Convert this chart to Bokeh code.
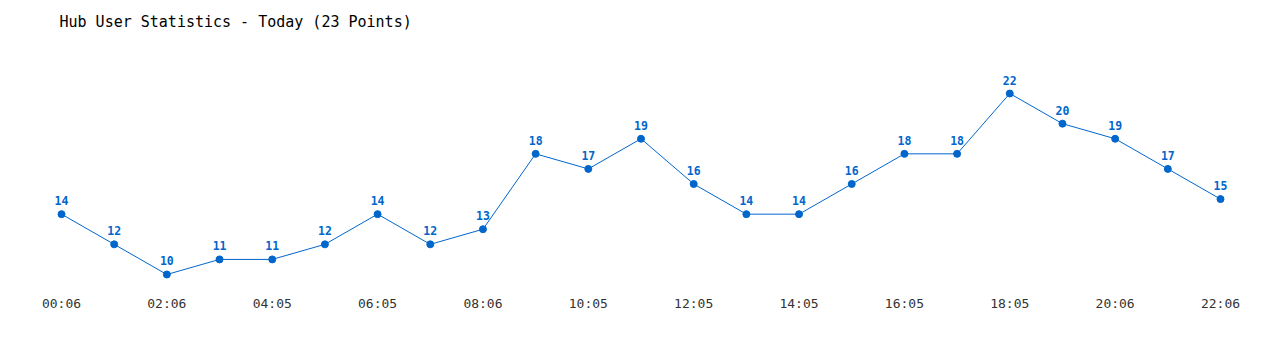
from bokeh.plotting import figure
from bokeh.models import ColumnDataSource, LabelSet, FixedTicker, Range1d
from bokeh.core.properties import value
from bokeh.embed import file_html
from bokeh.resources import INLINE

title = "Hub User Statistics - Today (23 Points)"
users = [14, 12, 10, 11, 11, 12, 14, 12, 13, 18, 17, 19, 16, 14, 14, 16, 18, 18, 22, 20, 19, 17, 15]
tick_labels = ["00:06", "02:06", "04:05", "06:05", "08:06", "10:05", "12:05",
               "14:05", "16:05", "18:05", "20:06", "22:06"]

idx = list(range(len(users)))
tick_pos = idx[::2]
color = "#0066CC"
mono = "DejaVu Sans Mono"

src = ColumnDataSource(dict(x=idx, y=users, lab=[str(v) for v in users]))

p = figure(width=1280, height=350, output_backend="svg", toolbar_location=None,
           x_range=Range1d(-1.158, 23.139), y_range=Range1d(8.939, 25.514),
           min_border_left=0, min_border_right=0, min_border_top=40, min_border_bottom=60)
p.outline_line_color = None
p.background_fill_color = "white"
p.border_fill_color = "white"
p.grid.visible = False
p.yaxis.visible = False

p.title.text = title
p.title.text_font = mono
p.title.text_font_size = "15px"
p.title.text_font_style = "normal"
p.title.text_color = "#000000"
p.title.offset = 59
p.title.standoff = 20

ax = p.xaxis[0]
ax.ticker = FixedTicker(ticks=tick_pos)
ax.major_label_overrides = {i: t for i, t in zip(tick_pos, tick_labels)}
ax.axis_line_color = None
ax.major_tick_line_color = None
ax.major_tick_out = 0
ax.major_tick_in = 0
ax.minor_tick_line_color = None
ax.major_label_text_font = mono
ax.major_label_text_font_size = "13px"
ax.major_label_text_font_style = "normal"
ax.major_label_text_color = "#333333"
ax.major_label_standoff = 5

p.line("x", "y", source=src, line_color=color, line_width=1)
p.scatter("x", "y", source=src, size=7, fill_color=color, line_color=color)

labels = LabelSet(x="x", y="y", text="lab", source=src, y_offset=9,
                  text_align="center", text_baseline="alphabetic",
                  text_font=value(mono), text_font_size="11.5px", text_font_style="bold",
                  text_color=color)
p.add_layout(labels)

open("out.html", "w").write(file_html(p, INLINE))
